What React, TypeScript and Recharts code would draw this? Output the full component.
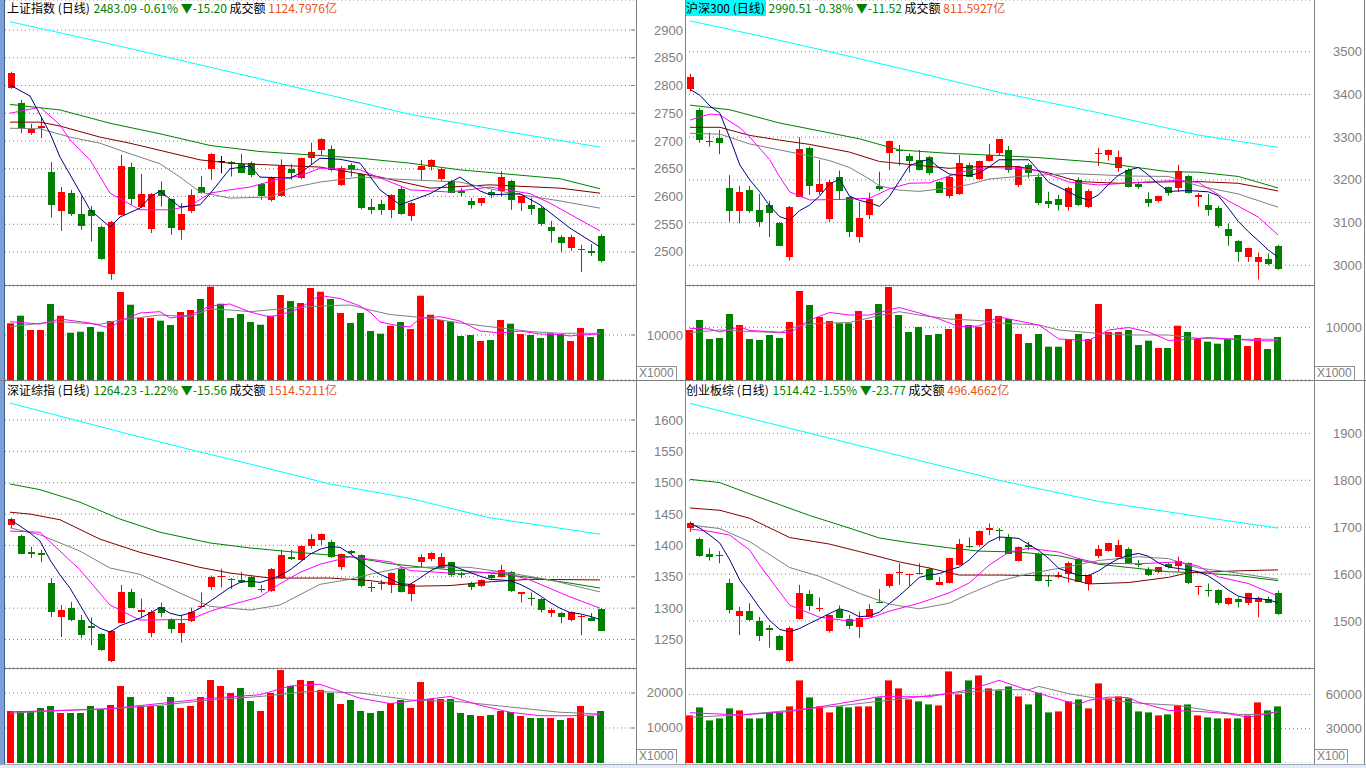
import React from 'react';
import { ComposedChart, Bar, Line, XAxis, YAxis, CartesianGrid } from 'recharts';

// ---------- 上证指数 ----------
const SH_OPEN = [2796, 2769, 2714, 2723, 2644, 2574, 2607, 2568, 2576, 2545, 2460, 2567, 2653, 2581, 2541, 2612, 2595, 2540, 2574, 2617, 2650, 2664, 2662, 2659, 2661, 2623, 2594, 2601, 2650, 2633, 2669, 2683, 2686, 2621, 2657, 2641, 2581, 2587, 2576, 2614, 2565, 2648, 2653, 2632, 2628, 2609, 2591, 2588, 2608, 2609, 2628, 2589, 2585, 2580, 2545, 2527, 2508, 2504, 2502, 2529];
const SH_CLOSE = [2823, 2724, 2722, 2727, 2585, 2608, 2569, 2547, 2564, 2487, 2554, 2655, 2596, 2605, 2605, 2600, 2544, 2568, 2603, 2606, 2677, 2664, 2659, 2643, 2638, 2600, 2633, 2655, 2642, 2669, 2680, 2704, 2647, 2651, 2647, 2579, 2576, 2576, 2603, 2568, 2588, 2655, 2666, 2650, 2607, 2606, 2585, 2597, 2603, 2635, 2594, 2600, 2577, 2551, 2537, 2517, 2527, 2506, 2498, 2483.09];
const SH_HIGH = [2825, 2774, 2731, 2743, 2662, 2617, 2612, 2600, 2583, 2547, 2556, 2675, 2661, 2641, 2606, 2627, 2596, 2588, 2613, 2637, 2678, 2673, 2664, 2677, 2663, 2624, 2636, 2667, 2658, 2670, 2697, 2705, 2692, 2655, 2660, 2642, 2596, 2594, 2604, 2619, 2590, 2666, 2667, 2652, 2630, 2615, 2597, 2597, 2612, 2646, 2630, 2600, 2598, 2582, 2556, 2530, 2531, 2513, 2514, 2532];
const SH_LOW = [2794, 2714, 2711, 2705, 2562, 2538, 2565, 2540, 2519, 2486, 2450, 2566, 2585, 2579, 2534, 2582, 2531, 2522, 2570, 2605, 2630, 2642, 2636, 2642, 2635, 2594, 2591, 2600, 2630, 2631, 2657, 2675, 2645, 2619, 2636, 2577, 2568, 2567, 2561, 2567, 2556, 2630, 2647, 2628, 2606, 2601, 2578, 2583, 2597, 2600, 2576, 2574, 2567, 2547, 2517, 2500, 2502, 2464, 2493, 2481];
const SH_VOL = [12600, 14290, 11110, 11110, 16890, 14290, 10510, 10730, 11780, 10730, 13110, 19560, 16730, 13780, 13780, 13180, 12220, 15110, 15560, 18000, 20730, 16950, 13780, 14670, 12890, 12290, 14290, 18890, 17550, 17110, 20440, 19620, 18000, 14890, 12670, 14890, 10890, 10290, 12070, 12890, 11330, 18730, 14510, 13330, 12960, 9780, 10000, 8670, 8890, 13330, 12510, 10220, 10000, 9330, 10380, 10220, 8670, 11560, 9560, 11330];
// moving averages as [day index, value]
const SH_MA5 = [[0, 2801], [2, 2781], [4, 2714], [5, 2671], [7, 2608], [8, 2576], [10, 2545], [11, 2563], [13, 2579], [14, 2599], [15, 2610], [17, 2581], [19, 2585], [20, 2605], [22, 2650], [24, 2655], [25, 2635], [28, 2633], [29, 2642], [31, 2669], [33, 2667], [35, 2660], [37, 2612], [39, 2585], [42, 2605], [45, 2635], [47, 2610], [48, 2603], [51, 2605], [53, 2585], [56, 2543], [59, 2509]];
const SH_MA10 = [[0, 2750], [3, 2761], [5, 2729], [6, 2702], [8, 2666], [10, 2606], [13, 2576], [16, 2576], [18, 2583], [20, 2606], [22, 2612], [24, 2617], [27, 2632], [29, 2637], [31, 2651], [35, 2648], [40, 2612], [44, 2608], [48, 2617], [52, 2605], [54, 2588], [57, 2558], [59, 2538]];
const SH_MA20 = [[0, 2723], [3, 2722], [6, 2707], [9, 2696], [12, 2677], [15, 2659], [17, 2635], [19, 2608], [22, 2597], [26, 2599], [28, 2615], [31, 2626], [35, 2635], [40, 2630], [45, 2626], [50, 2606], [55, 2592], [59, 2579]];
const SH_MA30 = [[0, 2734], [3, 2734], [5, 2727], [9, 2707], [12, 2696], [19, 2666], [22, 2660], [31, 2653], [37, 2635], [42, 2615], [48, 2621], [55, 2615], [59, 2606]];
const SH_MA60 = [[0, 2766], [5, 2756], [10, 2732], [15, 2713], [20, 2692], [25, 2681], [30, 2675], [35, 2669], [40, 2660], [45, 2648], [50, 2640], [55, 2632], [59, 2614]];
const SH_MA250 = [[0, 2915], [10, 2875], [20, 2833], [30, 2791], [40, 2748], [50, 2716], [59, 2689]];
const SH_VMA5 = [[0, 12950], [3, 12440], [5, 13550], [8, 12670], [10, 11560], [11, 13110], [13, 14890], [15, 15180], [16, 13780], [18, 14440], [20, 16440], [22, 16890], [24, 15110], [26, 14000], [28, 15110], [29, 16000], [31, 18780], [33, 18110], [35, 16440], [36, 15110], [37, 12890], [39, 12000], [40, 11780], [41, 13710], [43, 14070], [45, 13110], [47, 10890], [49, 10440], [51, 10890], [53, 10220], [55, 10110], [56, 9780], [57, 10000], [59, 10220]];
const SH_VMA10 = [[0, 11840], [3, 12600], [5, 12950], [9, 12380], [11, 13330], [15, 14440], [18, 14070], [20, 15780], [22, 15560], [24, 15180], [28, 16000], [31, 16440], [34, 16670], [36, 15560], [38, 14550], [42, 13710], [45, 12670], [48, 11840], [52, 10780], [55, 10380], [59, 10380]];

// ---------- 沪深300 ----------
const HS_OPEN = [3412, 3364, 3291, 3297, 3180, 3126, 3176, 3130, 3141, 3098, 3020, 3161, 3275, 3172, 3108, 3206, 3159, 3066, 3118, 3186, 3262, 3269, 3256, 3247, 3254, 3196, 3162, 3167, 3235, 3202, 3245, 3262, 3270, 3188, 3235, 3207, 3151, 3155, 3137, 3200, 3137, 3261, 3258, 3227, 3222, 3190, 3155, 3151, 3183, 3182, 3209, 3160, 3141, 3135, 3084, 3058, 3019, 3008, 3014, 3045];
const HS_CLOSE = [3440, 3293, 3289, 3286, 3126, 3172, 3128, 3102, 3122, 3046, 3136, 3272, 3186, 3190, 3195, 3175, 3079, 3110, 3155, 3179, 3291, 3267, 3245, 3223, 3215, 3170, 3207, 3240, 3207, 3244, 3258, 3295, 3222, 3231, 3217, 3147, 3144, 3140, 3180, 3140, 3175, 3264, 3270, 3254, 3184, 3184, 3147, 3162, 3170, 3221, 3169, 3164, 3130, 3092, 3069, 3032, 3040, 3020, 3002, 2990.51];
const HS_HIGH = [3448, 3368, 3311, 3317, 3211, 3186, 3186, 3167, 3151, 3101, 3139, 3300, 3278, 3247, 3200, 3222, 3161, 3149, 3170, 3219, 3292, 3282, 3262, 3270, 3256, 3197, 3211, 3258, 3240, 3245, 3284, 3296, 3279, 3233, 3239, 3215, 3172, 3165, 3184, 3206, 3178, 3275, 3271, 3268, 3227, 3196, 3171, 3163, 3184, 3235, 3211, 3169, 3167, 3139, 3098, 3059, 3041, 3030, 3028, 3048];
const HS_LOW = [3407, 3287, 3278, 3260, 3102, 3098, 3123, 3090, 3066, 3045, 3011, 3160, 3165, 3165, 3102, 3153, 3066, 3053, 3108, 3175, 3223, 3233, 3217, 3222, 3211, 3169, 3157, 3165, 3206, 3200, 3243, 3258, 3217, 3183, 3204, 3141, 3134, 3128, 3128, 3139, 3134, 3233, 3245, 3219, 3182, 3179, 3137, 3147, 3163, 3172, 3168, 3137, 3116, 3088, 3046, 3008, 3008, 2967, 3000, 2989];
const HS_VOL = [9490, 11390, 7780, 7970, 12520, 10440, 7780, 7590, 8540, 7970, 11010, 16890, 14230, 11950, 11200, 10760, 10760, 13090, 11390, 14420, 17650, 12330, 9110, 10060, 8540, 8730, 9680, 12520, 10440, 10060, 13470, 12140, 11570, 8730, 7020, 8730, 6320, 6320, 7780, 8730, 7780, 14420, 9110, 9110, 9490, 6640, 7460, 6070, 6070, 10300, 9110, 7780, 7270, 6890, 7780, 8540, 6450, 7970, 5880, 8160];
const HS_MA5 = [[0, 3412], [1, 3398], [2, 3373], [3, 3356], [4, 3298], [5, 3235], [6, 3200], [7, 3172], [8, 3139], [9, 3114], [10, 3106], [11, 3128], [12, 3141], [13, 3162], [14, 3190], [15, 3202], [16, 3162], [17, 3152], [18, 3146], [19, 3138], [20, 3161], [21, 3197], [22, 3233], [23, 3242], [24, 3248], [25, 3228], [26, 3214], [27, 3210], [28, 3210], [29, 3216], [30, 3230], [31, 3247], [33, 3247], [34, 3247], [35, 3221], [36, 3194], [37, 3183], [38, 3172], [39, 3159], [40, 3153], [41, 3165], [42, 3190], [43, 3211], [44, 3223], [45, 3229], [46, 3211], [47, 3190], [48, 3173], [50, 3175], [52, 3172], [53, 3163], [54, 3134], [55, 3103], [56, 3079], [57, 3058], [58, 3036], [59, 3019]];
const HS_MA10 = [[0, 3340], [2, 3354], [3, 3352], [5, 3322], [6, 3300], [8, 3247], [9, 3207], [10, 3172], [12, 3153], [15, 3154], [18, 3157], [20, 3179], [22, 3192], [24, 3193], [26, 3209], [28, 3223], [30, 3229], [33, 3227], [35, 3221], [38, 3195], [41, 3188], [45, 3194], [49, 3199], [51, 3194], [54, 3151], [57, 3113], [59, 3071]];
const HS_MA20 = [[0, 3309], [3, 3307], [6, 3284], [9, 3270], [12, 3256], [14, 3245], [16, 3229], [18, 3202], [19, 3186], [21, 3176], [23, 3173], [26, 3181], [28, 3189], [30, 3202], [33, 3208], [38, 3215], [44, 3209], [48, 3208], [51, 3186], [55, 3167], [59, 3136]];
const HS_MA30 = [[0, 3323], [3, 3323], [6, 3304], [9, 3293], [12, 3283], [16, 3265], [19, 3243], [22, 3236], [26, 3227], [29, 3231], [33, 3231], [36, 3216], [39, 3196], [43, 3192], [47, 3195], [51, 3196], [55, 3192], [59, 3174]];
const HS_MA60 = [[0, 3375], [4, 3364], [9, 3333], [14, 3310], [17, 3296], [21, 3270], [26, 3262], [31, 3257], [35, 3252], [41, 3241], [48, 3219], [51, 3218], [55, 3208], [59, 3181]];
const HS_MA250 = [[0, 3572], [7, 3537], [14, 3500], [22, 3456], [31, 3405], [41, 3357], [51, 3305], [59, 3276]];
const HS_VMA5 = [[0, 9810], [2, 9680], [3, 9110], [5, 10060], [6, 9390], [8, 9200], [10, 8920], [12, 11390], [14, 12810], [16, 12330], [18, 12330], [21, 13760], [23, 12710], [25, 11570], [27, 10110], [29, 10250], [31, 11950], [33, 11200], [35, 10440], [37, 7780], [40, 7500], [42, 9490], [44, 9960], [46, 9110], [48, 7500], [50, 7680], [52, 8060], [55, 7680], [57, 7460], [59, 7400]];
const HS_VMA10 = [[0, 8980], [3, 9490], [6, 9200], [9, 8980], [11, 10340], [13, 10760], [16, 10910], [19, 12240], [21, 12960], [23, 12330], [26, 11570], [29, 11290], [31, 10820], [35, 10440], [37, 9490], [41, 8820], [44, 8540], [48, 8540], [51, 7910], [55, 7720], [59, 7720]];

// ---------- 深证综指 ----------
const SZ_OPEN = [1432, 1415, 1390, 1388, 1340, 1286, 1301, 1281, 1272, 1259, 1216, 1277, 1325, 1294, 1261, 1302, 1283, 1260, 1279, 1303, 1333, 1349, 1345, 1345, 1350, 1329, 1327, 1348, 1382, 1377, 1399, 1409, 1406, 1365, 1391, 1384, 1334, 1340, 1337, 1363, 1323, 1374, 1379, 1364, 1373, 1354, 1340, 1336, 1353, 1350, 1358, 1323, 1317, 1315, 1293, 1292, 1281, 1286, 1284, 1299];
const SZ_CLOSE = [1442, 1387, 1386, 1384, 1294, 1297, 1281, 1258, 1268, 1233, 1264, 1325, 1301, 1297, 1294, 1292, 1266, 1276, 1294, 1304, 1350, 1351, 1347, 1341, 1334, 1330, 1363, 1385, 1379, 1399, 1410, 1418, 1381, 1386, 1388, 1336, 1333, 1338, 1356, 1326, 1338, 1381, 1388, 1381, 1353, 1353, 1334, 1345, 1348, 1361, 1327, 1325, 1314, 1297, 1297, 1286, 1294, 1287.5, 1279.8, 1264.23];
const SZ_HIGH = [1444, 1417, 1398, 1393, 1348, 1305, 1310, 1289, 1285, 1260, 1265, 1337, 1331, 1315, 1297, 1309, 1284, 1288, 1301, 1325, 1352, 1363, 1348, 1358, 1351, 1337, 1364, 1393, 1393, 1400, 1418, 1419, 1409, 1387, 1393, 1386, 1342, 1345, 1357, 1366, 1340, 1386, 1389, 1388, 1374, 1358, 1342, 1346, 1354, 1369, 1359, 1326, 1325, 1316, 1300, 1294, 1295, 1289, 1292, 1300];
const SZ_LOW = [1428, 1386, 1380, 1373, 1286, 1254, 1279, 1252, 1241, 1232, 1214, 1276, 1300, 1285, 1254, 1286, 1260, 1245, 1278, 1302, 1329, 1333, 1331, 1340, 1333, 1325, 1326, 1347, 1377, 1376, 1395, 1401, 1380, 1361, 1386, 1333, 1326, 1329, 1324, 1325, 1311, 1364, 1375, 1363, 1350, 1348, 1329, 1334, 1345, 1349, 1326, 1309, 1304, 1293, 1286, 1276, 1279, 1257, 1279, 1264];
const SZ_VOL = [14860, 14860, 14860, 15710, 16290, 14290, 14290, 14290, 16290, 15430, 16570, 22000, 18860, 16290, 16290, 16290, 18860, 15710, 16290, 18860, 23710, 22000, 20000, 21430, 17710, 14860, 20000, 26570, 22000, 23710, 23430, 20860, 20000, 16860, 18000, 14860, 14290, 14860, 17140, 18000, 15710, 23140, 18290, 18290, 18290, 14290, 13710, 13430, 13710, 14860, 14570, 13430, 12860, 12860, 12860, 12290, 12860, 16290, 13430, 14860];
const SZ_MA5 = [[0, 1441], [1, 1431], [2, 1420], [3, 1407], [4, 1377], [5, 1353], [6, 1332], [7, 1305], [8, 1278], [9, 1268], [10, 1262], [11, 1272], [12, 1278], [13, 1284], [14, 1292], [15, 1301], [16, 1292], [17, 1288], [18, 1292], [19, 1300], [20, 1311], [21, 1322], [22, 1333], [23, 1341], [24, 1343], [25, 1341], [26, 1346], [27, 1352], [28, 1361], [29, 1373], [30, 1386], [31, 1394], [32, 1398], [33, 1397], [34, 1387], [35, 1375], [36, 1363], [37, 1354], [38, 1347], [39, 1339], [40, 1338], [41, 1348], [42, 1359], [43, 1367], [44, 1369], [45, 1363], [46, 1357], [47, 1351], [48, 1346], [49, 1345], [50, 1344], [51, 1338], [52, 1330], [53, 1320], [54, 1309], [55, 1300], [56, 1293], [57, 1291], [58, 1287], [59, 1282]];
const SZ_MA10 = [[0, 1423], [3, 1421], [5, 1391], [7, 1361], [10, 1305], [13, 1281], [18, 1282], [20, 1295], [22, 1305], [25, 1318], [27, 1339], [29, 1357], [31, 1370], [34, 1382], [38, 1374], [40, 1360], [45, 1355], [49, 1358], [52, 1345], [56, 1318], [59, 1300]];
const SZ_MA20 = [[0, 1428], [3, 1417], [7, 1391], [10, 1364], [13, 1354], [17, 1324], [20, 1303], [24, 1297], [27, 1305], [31, 1338], [34, 1346], [36, 1354], [39, 1364], [43, 1366], [46, 1365], [50, 1356], [54, 1345], [59, 1326]];
const SZ_MA30 = [[0, 1453], [2, 1450], [5, 1441], [9, 1410], [13, 1389], [19, 1365], [22, 1356], [26, 1348], [32, 1348], [36, 1344], [40, 1335], [44, 1336], [48, 1342], [52, 1346], [59, 1345]];
const SZ_MA60 = [[0, 1498], [3, 1489], [7, 1469], [11, 1442], [15, 1421], [20, 1404], [24, 1396], [28, 1390], [34, 1382], [38, 1371], [42, 1364], [48, 1356], [52, 1349], [56, 1340], [59, 1332]];
const SZ_MA250 = [[0, 1627], [6, 1602], [12, 1577], [19, 1549], [25, 1526], [32, 1498], [40, 1475], [48, 1444], [59, 1418]];
const SZ_VMA5 = [[0, 14600], [5, 15000], [10, 15500], [15, 17000], [20, 18500], [25, 19500], [28, 22000], [31, 22500], [35, 18500], [38, 17000], [41, 18000], [44, 19000], [47, 16500], [50, 14500], [53, 13500], [56, 13500], [59, 13800]];
const SZ_VMA10 = [[0, 14200], [5, 15000], [10, 15500], [15, 16500], [20, 18000], [25, 19000], [30, 20500], [35, 20000], [40, 18000], [45, 17500], [50, 16000], [55, 14500], [59, 14000]];

// ---------- 创业板综 ----------
const CY_OPEN = [1698, 1675, 1642, 1641, 1580, 1511, 1521, 1500, 1484.5, 1468, 1415, 1504, 1557, 1527, 1479, 1523, 1504, 1488, 1509, 1541, 1575, 1602, 1598, 1602, 1611, 1577, 1582, 1619, 1660.6, 1661, 1694, 1694, 1678, 1628, 1662, 1643, 1587, 1593, 1600, 1632, 1579, 1639, 1650, 1637, 1653, 1621.6, 1609, 1605, 1622, 1617, 1624, 1572, 1566, 1566, 1535.6, 1546, 1539, 1541, 1546, 1559];
const CY_CLOSE = [1710, 1639, 1637, 1639, 1523, 1521, 1502, 1467, 1481.5, 1438, 1486, 1559, 1533, 1528, 1513, 1507, 1490, 1506, 1526, 1539, 1600, 1605, 1600, 1600, 1587, 1582.5, 1634, 1664, 1658.4, 1692, 1697.6, 1692, 1643.5, 1658, 1657, 1586, 1585, 1598, 1623, 1584, 1598, 1653, 1666, 1662, 1623, 1619.4, 1598, 1614.5, 1614.5, 1628, 1582, 1574.6, 1564, 1539, 1548.4, 1541, 1559, 1548, 1538.19, 1514.42];
const CY_HIGH = [1712, 1678, 1655, 1649, 1590, 1530, 1538, 1509, 1491.5, 1470, 1488, 1577, 1566, 1550, 1514, 1533, 1513, 1520, 1536, 1568, 1601, 1623, 1601, 1623, 1614, 1594, 1635, 1675, 1678, 1693, 1708, 1698, 1685, 1659, 1669, 1646, 1598, 1605, 1626.5, 1634, 1599, 1662, 1667, 1673, 1657, 1630, 1614.5, 1615, 1624, 1637, 1625, 1575, 1580, 1567.6, 1550.5, 1550.6, 1560, 1552, 1552, 1564.6];
const CY_LOW = [1690, 1637, 1629, 1623, 1516, 1470, 1500, 1457, 1443, 1437, 1412, 1503, 1521, 1520, 1475, 1506, 1483, 1464, 1508, 1538, 1571, 1577, 1575, 1599, 1586, 1576, 1580, 1618, 1656, 1658, 1683, 1671, 1643, 1627, 1651, 1584, 1573, 1591, 1582, 1583, 1565, 1634, 1648, 1636, 1622, 1614.5, 1596, 1602, 1612, 1605, 1579, 1555.5, 1552, 1534, 1534, 1529, 1534, 1508, 1538, 1513];
const CY_VOL = [41630, 48630, 37260, 39010, 47750, 46000, 39010, 39010, 44250, 44250, 49500, 72240, 57370, 49500, 44250, 49500, 48630, 49500, 49500, 57370, 72240, 65250, 55620, 53880, 51250, 50380, 80110, 60000, 72240, 76610, 65250, 63500, 67000, 58250, 51250, 61480, 44250, 45130, 53880, 55620, 47750, 69620, 56500, 58250, 56500, 45130, 44250, 41630, 42510, 50380, 51250, 41630, 39880, 39010, 39010, 39010, 41630, 53000, 46000, 49500];
const CY_MA5 = [[0, 1708], [1, 1698], [2, 1683], [3, 1666], [4, 1630], [5, 1587], [6, 1558], [7, 1528], [8, 1501], [9, 1482], [10, 1477], [11, 1484], [12, 1495], [13, 1505], [14, 1516], [15, 1526], [16, 1520], [17, 1509], [18, 1511], [19, 1519], [20, 1537], [21, 1554], [22, 1573], [23, 1593], [24, 1598], [25, 1601], [26, 1609], [27, 1615], [28, 1630], [29, 1651], [30, 1669], [31, 1679], [32, 1678], [33, 1676], [34, 1663], [35, 1650], [36, 1633], [37, 1612], [38, 1605], [39, 1597], [40, 1597], [41, 1607], [42, 1621], [43, 1633], [44, 1640], [45, 1644], [46, 1638], [47, 1624], [48, 1615], [49, 1612], [50, 1609], [51, 1605], [52, 1596], [53, 1582], [54, 1566], [55, 1553], [56, 1548], [57, 1548], [58, 1545], [59, 1539]];
const CY_MA10 = [[0, 1696], [2, 1691], [4, 1683], [6, 1651], [7, 1619], [9, 1562], [10, 1534], [13, 1508], [16, 1500], [18, 1506], [20, 1521], [23, 1538], [26, 1560], [28, 1581], [30, 1619], [32, 1647], [34, 1655], [37, 1647], [39, 1633], [41, 1623], [45, 1622], [49, 1626], [51, 1617], [53, 1594], [56, 1580], [59, 1553]];
const CY_MA20 = [[0, 1705], [3, 1697], [6, 1669], [10, 1614], [13, 1595], [17, 1559], [20, 1536], [23, 1526], [26, 1538], [28, 1558], [31, 1585], [34, 1601], [38, 1616], [41, 1629], [45, 1637], [48, 1633], [51, 1613], [55, 1602], [59, 1589]];
const CY_MA30 = [[0, 1741], [3, 1736], [6, 1719], [10, 1678], [14, 1664], [17, 1648], [21, 1626], [24, 1613], [27, 1598], [31, 1598], [37, 1596], [40, 1579], [44, 1582], [48, 1593], [50, 1603], [55, 1607], [59, 1609]];
const CY_MA60 = [[0, 1802], [3, 1795], [6, 1771], [9, 1748], [12, 1725], [16, 1698], [19, 1677], [22, 1667], [26, 1656], [29, 1649], [33, 1647], [37, 1639], [41, 1621], [48, 1605], [51, 1603], [55, 1597], [59, 1586]];
const CY_MA250 = [[0, 1964], [10, 1911], [20, 1858], [31, 1800], [41, 1755], [51, 1723], [59, 1698]];
const CY_VMA5 = [[0, 44000], [5, 42000], [10, 45000], [15, 52000], [19, 58000], [24, 58000], [28, 64000], [31, 72240], [34, 63500], [36, 58250], [38, 53260], [39, 51250], [40, 54750], [42, 57640], [44, 57110], [45, 53260], [48, 46000], [51, 45130], [54, 43120], [56, 40140], [58, 43120], [59, 45130]];
const CY_VMA10 = [[0, 40000], [5, 42000], [10, 46000], [15, 50000], [20, 55000], [25, 60000], [31, 64110], [34, 64110], [35, 67000], [38, 60610], [41, 56240], [45, 52390], [49, 50380], [52, 46000], [55, 42510], [57, 42510], [59, 44520]];

const UP = '#ff0000';
const DOWN = '#008000';
const FLAT = '#000000';
const GRID = '#808080';
const SLOTS = 63;
const AXIS_FONT = "'Liberation Sans', Arial, sans-serif";
const CJK_FONT = "'Noto Sans CJK SC', sans-serif";

const MA_LINES = [
  { key: 'ma250', color: '#00ffff' },
  { key: 'ma60', color: '#008000' },
  { key: 'ma30', color: '#800000' },
  { key: 'ma20', color: '#808080' },
  { key: 'ma10', color: '#ff00ff' },
  { key: 'ma5', color: '#000080' },
];

function fromPairs(pairs: number[][]) {
  const out: (number | null)[] = new Array(SLOTS).fill(null);
  pairs.forEach(([i, v]) => { out[i] = v; });
  return out;
}

function buildRows(s: any) {
  const ma: Record<string, (number | null)[]> = {};
  for (const k of Object.keys(s.ma)) ma[k] = fromPairs(s.ma[k]);
  const v5 = fromPairs(s.vma5);
  const v10 = fromPairs(s.vma10);
  const rows: any[] = [];
  for (let i = 0; i < SLOTS; i++) {
    const row: any = { i, v5: v5[i], v10: v10[i] };
    if (i < s.open.length) {
      row.open = s.open[i];
      row.close = s.close[i];
      row.high = s.high[i];
      row.low = s.low[i];
      row.range = [s.low[i], s.high[i]];
      row.vol = s.vol[i];
      row.up = s.close[i] > s.open[i];
    }
    for (const k of Object.keys(ma)) row[k] = ma[k][i];
    rows.push(row);
  }
  return rows;
}

const Candle = (props: any) => {
  const { x, y, width, height, payload } = props;
  if (!payload || payload.high == null) return null;
  const { open, close, high, low } = payload;
  const k = high > low ? height / (high - low) : 0;
  const py = (v: number) => y + (high - v) * k;
  const color = close > open ? UP : close < open ? DOWN : FLAT;
  const cx = Math.round(x + width / 2) + 0.5;
  const top = Math.round(py(Math.max(open, close)));
  const bot = Math.round(py(Math.min(open, close)));
  return (
    <g>
      <line x1={cx} x2={cx} y1={py(high)} y2={py(low)} stroke={color} strokeWidth={1} />
      <rect x={cx - 3.5} y={top} width={7} height={Math.max(1, bot - top)} fill={color} />
    </g>
  );
};

const VolBar = (props: any) => {
  const { x, y, height, payload } = props;
  if (!payload || payload.vol == null) return null;
  return <rect x={Math.round(x)} y={y} width={7} height={height} fill={payload.up ? UP : DOWN} />;
};

const makeTick = (dx: number, mark: boolean) => (props: any) => {
  const { x, y, payload } = props;
  return (
    <g>
      {mark && <line x1={x - 4} x2={x} y1={y} y2={y} stroke={GRID} />}
      <text x={x + dx} y={y} textAnchor="end" dominantBaseline="central" fontSize={13} fontFamily={AXIS_FONT} fill="#808080">
        {payload.value}
      </text>
    </g>
  );
};

const range = (a: number, b: number, step: number) => {
  const out: number[] = [];
  for (let v = a; v <= b; v += step) out.push(v);
  return out;
};

const PANELS = [
  {
    name: '上证指数 (日线)', quote: '2483.09 -0.61%', change: '▼-15.20', amount: '1124.7976亿',
    x: 0, marginLeft: 5, plotW: 630, axisW: 50, labelDx: 48, marks: true, titleX: 6, titleY: 0, highlight: false,
    priceTop: 0, priceH: 285, priceDomain: [2440.5, 2954.1], priceTicks: range(2500, 2900, 50),
    volTop: 286, volH: 94, volDomain: [0, 20889], volTicks: [10000], unit: 'X1000',
    series: { open: SH_OPEN, close: SH_CLOSE, high: SH_HIGH, low: SH_LOW, vol: SH_VOL, vma5: SH_VMA5, vma10: SH_VMA10,
      ma: { ma5: SH_MA5, ma10: SH_MA10, ma20: SH_MA20, ma30: SH_MA30, ma60: SH_MA60, ma250: SH_MA250 } },
  },
  {
    name: '沪深300 (日线)', quote: '2990.51 -0.38%', change: '▼-11.52', amount: '811.5927亿',
    x: 685, marginLeft: 0, plotW: 628, axisW: 53, labelDx: 49, marks: false, titleX: 685, titleY: 0, highlight: true,
    priceTop: 0, priceH: 285, priceDomain: [2953.9, 3621], priceTicks: range(3000, 3500, 100),
    volTop: 286, volH: 94, volDomain: [0, 17837], volTicks: [10000], unit: 'X1000',
    series: { open: HS_OPEN, close: HS_CLOSE, high: HS_HIGH, low: HS_LOW, vol: HS_VOL, vma5: HS_VMA5, vma10: HS_VMA10,
      ma: { ma5: HS_MA5, ma10: HS_MA10, ma20: HS_MA20, ma30: HS_MA30, ma60: HS_MA60, ma250: HS_MA250 } },
  },
  {
    name: '深证综指 (日线)', quote: '1264.23 -1.22%', change: '▼-15.56', amount: '1514.5211亿',
    x: 0, marginLeft: 5, plotW: 630, axisW: 50, labelDx: 48, marks: true, titleX: 6, titleY: 382, highlight: false,
    priceTop: 381, priceH: 287, priceDomain: [1204.6, 1662.2], priceTicks: range(1250, 1600, 50),
    volTop: 669, volH: 94, volDomain: [0, 26857], volTicks: [10000, 20000], unit: 'X1000',
    series: { open: SZ_OPEN, close: SZ_CLOSE, high: SZ_HIGH, low: SZ_LOW, vol: SZ_VOL, vma5: SZ_VMA5, vma10: SZ_VMA10,
      ma: { ma5: SZ_MA5, ma10: SZ_MA10, ma20: SZ_MA20, ma30: SZ_MA30, ma60: SZ_MA60, ma250: SZ_MA250 } },
  },
  {
    name: '创业板综 (日线)', quote: '1514.42 -1.55%', change: '▼-23.77', amount: '496.4662亿',
    x: 685, marginLeft: 0, plotW: 628, axisW: 53, labelDx: 49, marks: false, titleX: 685, titleY: 382, highlight: false,
    priceTop: 381, priceH: 287, priceDomain: [1399.8, 2011.7], priceTicks: range(1500, 1900, 100),
    volTop: 669, volH: 94, volDomain: [0, 82216], volTicks: [30000, 60000], unit: 'X100',
    series: { open: CY_OPEN, close: CY_CLOSE, high: CY_HIGH, low: CY_LOW, vol: CY_VOL, vma5: CY_VMA5, vma10: CY_VMA10,
      ma: { ma5: CY_MA5, ma10: CY_MA10, ma20: CY_MA20, ma30: CY_MA30, ma60: CY_MA60, ma250: CY_MA250 } },
  },
];

function Panel({ p }: { p: any }) {
  const rows = buildRows(p.series);
  const chartW = p.marginLeft + p.plotW + p.axisW;
  const margin = { top: 0, right: 0, bottom: 0, left: p.marginLeft };
  const tick = makeTick(p.labelDx, p.marks);
  const axisLeft = p.x + p.marginLeft + p.plotW;
  return (
    <>
      <div style={{ position: 'absolute', left: p.x, top: p.priceTop }}>
        <ComposedChart width={chartW} height={p.priceH} data={rows} margin={margin}>
          <XAxis dataKey="i" hide />
          <YAxis orientation="right" width={p.axisW} domain={p.priceDomain} ticks={p.priceTicks} allowDataOverflow
            axisLine={false} tickLine={false} tickSize={0} tickMargin={0} interval={0} tick={tick} />
          <CartesianGrid vertical={false} stroke={GRID} strokeDasharray="1 3" />
          <Bar dataKey="range" barSize={7} isAnimationActive={false} shape={Candle} />
          {MA_LINES.map((m) => (
            <Line key={m.key} dataKey={m.key} stroke={m.color} strokeWidth={1} dot={false} activeDot={false}
              connectNulls isAnimationActive={false} />
          ))}
        </ComposedChart>
      </div>
      <div style={{ position: 'absolute', left: p.x, top: p.volTop }}>
        <ComposedChart width={chartW} height={p.volH} data={rows} margin={margin}>
          <XAxis dataKey="i" hide />
          <YAxis orientation="right" width={p.axisW} domain={p.volDomain} ticks={p.volTicks} allowDataOverflow
            axisLine={false} tickLine={false} tickSize={0} tickMargin={0} interval={0} tick={tick} />
          <CartesianGrid vertical={false} stroke={GRID} strokeDasharray="1 3" />
          <Bar dataKey="vol" barSize={7} isAnimationActive={false} shape={VolBar} />
          <Line dataKey="v10" stroke="#808080" strokeWidth={1} dot={false} activeDot={false} connectNulls isAnimationActive={false} />
          <Line dataKey="v5" stroke="#ff00ff" strokeWidth={1} dot={false} activeDot={false} connectNulls isAnimationActive={false} />
        </ComposedChart>
      </div>
      {/* title line */}
      <div style={{ position: 'absolute', left: p.titleX, top: p.titleY, height: 16, lineHeight: '16px', fontSize: 12,
        fontFamily: CJK_FONT, whiteSpace: 'nowrap' }}>
        <span style={{ color: '#000', background: p.highlight ? '#00ffff' : 'transparent', padding: '0 1px' }}>{p.name}</span>
        <span style={{ color: '#008000' }}> {p.quote} {p.change} </span>
        <span style={{ color: '#000' }}>成交额 </span>
        <span style={{ color: '#e8541c' }}>{p.amount}</span>
      </div>
      {/* separator between price and volume */}
      <div style={{ position: 'absolute', left: p.x + p.marginLeft, top: p.volTop - 1, width: p.plotW + 1, height: 1, background: GRID }} />
      {/* unit box */}
      <div style={{ position: 'absolute', left: axisLeft + 1, top: p.volTop + p.volH - 14, height: 13, padding: '0 2px',
        border: '1px solid #909090', borderBottom: 'none', fontSize: 12, lineHeight: '13px', color: '#808080', fontFamily: AXIS_FONT }}>
        {p.unit}
      </div>
    </>
  );
}

export default function App() {
  return (
    <div style={{ position: 'absolute', left: 0, top: 0, width: 1366, height: 768, background: '#fff', overflow: 'hidden' }}>
      {PANELS.map((p, i) => <Panel key={i} p={p} />)}
      {/* frame lines */}
      <div style={{ position: 'absolute', left: 0, top: 0, width: 4, height: 768, background: '#7d9fd3', borderRight: '1px solid #3a5f9a' }} />
      <div style={{ position: 'absolute', left: 636, top: 0, width: 1, height: 768, background: GRID }} />
      <div style={{ position: 'absolute', left: 685, top: 0, width: 1, height: 768, background: GRID }} />
      <div style={{ position: 'absolute', left: 1314, top: 0, width: 1, height: 768, background: GRID }} />
      <div style={{ position: 'absolute', left: 1364, top: 0, width: 1, height: 768, background: GRID }} />
      <div style={{ position: 'absolute', left: 0, top: 380, width: 1366, height: 1, background: GRID }} />
      <div style={{ position: 'absolute', left: 0, top: 764, width: 1366, height: 1, background: '#a0a8b8' }} />
      <div style={{ position: 'absolute', left: 0, top: 765, width: 1366, height: 3, background: '#e4eaf3' }} />
    </div>
  );
}
